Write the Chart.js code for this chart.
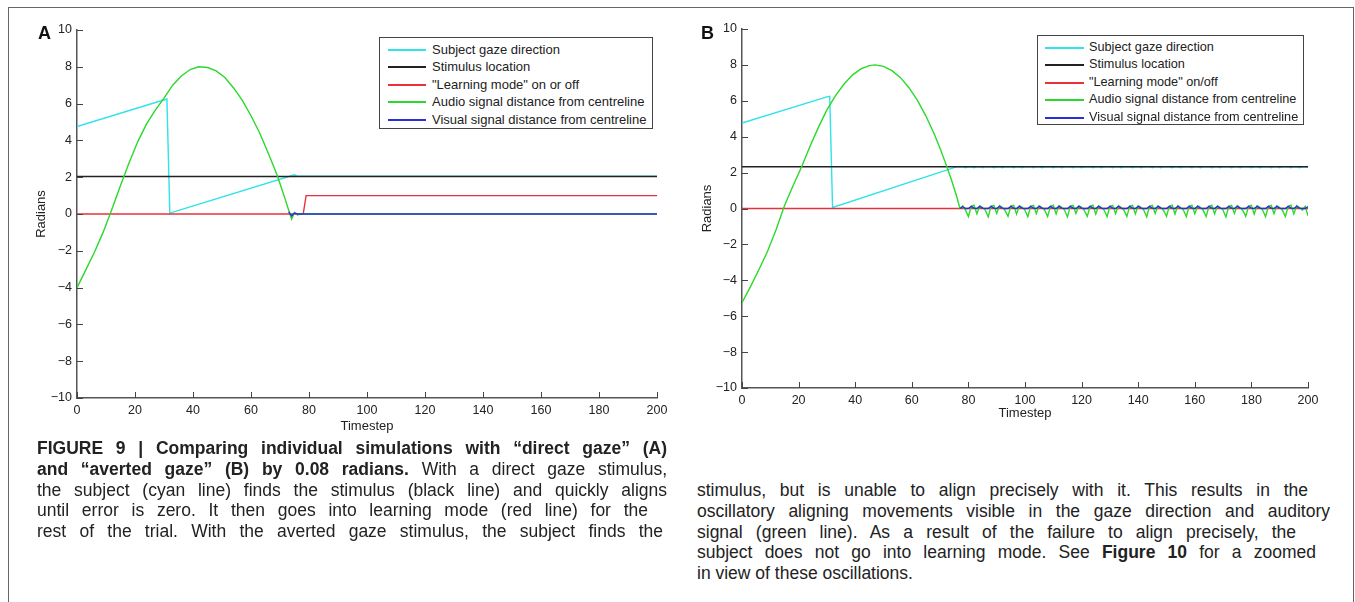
<!DOCTYPE html>
<html>
<head>
<meta charset="utf-8">
<script src="https://cdn.jsdelivr.net/npm/chart.js@4.4.1/dist/chart.umd.min.js"></script>
<style>
  body { margin: 0; background: #fff; width: 1355px; height: 602px; overflow: hidden; position: relative; font-family: "Liberation Sans", Arial, sans-serif; color: #222; }
  #frame { position: absolute; left: 8px; top: 7px; width: 1346px; height: 640px; border: 1.5px solid #666; border-bottom: none; box-sizing: border-box; }
  canvas { position: absolute; top: 0; }
  #cA { left: 0; }
  #cB { left: 680px; }
  .tag { position: absolute; top: 23px; font: bold 18px "Liberation Sans", Arial, sans-serif; color: #111; }
  .legend { position: absolute; border: 1px solid #444; background: #fff; box-sizing: border-box; }
  .legend .row { position: absolute; left: 0; right: 0; height: 17px; line-height: 17px; white-space: nowrap; }
  .legend .swatch { position: absolute; top: 8px; height: 1.5px; }
  .legend .txt { position: absolute; top: 0; }
  #legA { left: 379px; top: 37px; width: 274px; height: 92px; font-size: 13px; }
  #legA .swatch { left: 8px; width: 38px; }
  #legA .txt { left: 52px; }
  #legB { left: 1037px; top: 35px; width: 267px; height: 90px; font-size: 12.7px; }
  #legB .swatch { left: 7px; width: 39px; }
  #legB .txt { left: 51px; }
  .cap { position: absolute; font: 17.5px "Liberation Sans Narrow", "Liberation Sans", Arial, sans-serif; line-height: 20.75px; color: #222; }
  .cap div { text-align: justify; text-align-last: justify; height: 20.75px; overflow: hidden; }
  .cap div.last { text-align-last: left; }
  #capL { left: 37px; top: 438px; width: 630px; }
  #capR { left: 697px; top: 480px; width: 640px; }
</style>
</head>
<body>
<div id="frame"></div>
<canvas id="cA" width="680" height="440"></canvas>
<canvas id="cB" width="675" height="440"></canvas>
<div class="tag" style="left:38px">A</div>
<div class="tag" style="left:701px">B</div>
<div id="legA" class="legend"></div>
<div id="legB" class="legend"></div>

<div id="capL" class="cap">
  <div><b>FIGURE 9 | Comparing individual simulations with “direct gaze” (A)</b></div>
  <div><b>and “averted gaze” (B) by 0.08 radians.</b> With a direct gaze stimulus,</div>
  <div>the subject (cyan line) finds the stimulus (black line) and quickly aligns</div>
  <div style="width:611px">until error is zero. It then goes into learning mode (red line) for the</div>
  <div style="width:626px">rest of the trial. With the averted gaze stimulus, the subject finds the</div>
</div>
<div id="capR" class="cap">
  <div style="width:611px">stimulus, but is unable to align precisely with it. This results in the</div>
  <div style="width:633px">oscillatory aligning movements visible in the gaze direction and auditory</div>
  <div style="width:599px">signal (green line). As a result of the failure to align precisely, the</div>
  <div style="width:619px">subject does not go into learning mode. See <b>Figure 10</b> for a zoomed</div>
  <div class="last">in view of these oscillations.</div>
</div>

<script>
// ---- panel A : direct gaze ----
const stimA_t = [0, 200];
const stimA_v = [2.04, 2.04];
const gazeA_t = [0, 31, 32, 75, 76, 200];
const gazeA_v = [4.75, 6.25, 0.05, 2.13, 2.05, 2.05];
const learnA_t = [0, 78, 79, 200];
const learnA_v = [0, 0, 1, 1];
const audioA_t = [0, 3, 6, 9, 12, 15, 18, 21, 24, 27, 30, 33, 36, 39, 42, 45, 48, 51, 54, 57, 60, 63, 66, 69, 71, 72, 73, 74, 75, 76, 77, 200];
const audioA_v = [-4.0, -3.05, -2.08, -1.0, 0.25, 1.55, 2.8, 3.95, 4.9, 5.65, 6.3, 7.0, 7.5, 7.85, 8.0, 7.96, 7.78, 7.42, 6.85, 6.18, 5.34, 4.4, 3.29, 2.12, 1.18, 0.7, 0.2, -0.28, 0.08, -0.05, 0.0, 0.0];
const visA_t = [73, 74, 75, 76, 200];
const visA_v = [0.12, -0.1, 0.05, 0, 0];

// ---- panel B : averted gaze ----
const stimB_t = [0, 200];
const stimB_v = [2.33, 2.33];
const learnB_t = [0, 200];
const learnB_v = [0, 0];
const gazeB_t = [0, 30, 31, 32, 76];
const gazeB_v = [4.76, 6.22, 6.25, 0.06, 2.33];
const audioB_t = [0, 3, 6, 9, 12, 15, 18, 21, 24, 27, 30, 33, 36, 39, 42, 45, 47, 50, 53, 56, 59, 62, 65, 68, 70, 72, 74, 75, 76];
const audioB_v = [-5.25, -4.35, -3.4, -2.4, -1.2, 0.15, 1.25, 2.3, 3.45, 4.52, 5.49, 6.28, 6.92, 7.43, 7.78, 7.96, 8.0, 7.92, 7.68, 7.29, 6.73, 6.02, 5.15, 4.12, 3.34, 2.5, 1.6, 1.1, 0.6];
// oscillating part, one value per timestep from oscStart to 200
const oscStart = 77;
const gazeB_osc = [
  2.33, 2.33, 2.27,
  2.33, 2.33, 2.27, 2.33, 2.33, 2.27, 2.33,
  2.33, 2.33, 2.27, 2.33, 2.33, 2.27, 2.33,
  2.33, 2.33, 2.27, 2.33, 2.33, 2.27, 2.33,
  2.33, 2.33, 2.27, 2.33, 2.33, 2.27, 2.33,
  2.33, 2.33, 2.27, 2.33, 2.33, 2.27, 2.33,
  2.33, 2.33, 2.27, 2.33, 2.33, 2.27, 2.33,
  2.33, 2.33, 2.27, 2.33, 2.33, 2.27, 2.33,
  2.33, 2.33, 2.27, 2.33, 2.33, 2.27, 2.33,
  2.33, 2.33, 2.27, 2.33, 2.33, 2.27, 2.33,
  2.33, 2.33, 2.27, 2.33, 2.33, 2.27, 2.33,
  2.33, 2.33, 2.27, 2.33, 2.33, 2.27, 2.33,
  2.33, 2.33, 2.27, 2.33, 2.33, 2.27, 2.33,
  2.33, 2.33, 2.27, 2.33, 2.33, 2.27, 2.33,
  2.33, 2.33, 2.27, 2.33, 2.33, 2.27, 2.33,
  2.33, 2.33, 2.27, 2.33, 2.33, 2.27, 2.33,
  2.33, 2.33, 2.27, 2.33, 2.33, 2.27, 2.33,
  2.33, 2.33, 2.27, 2.33, 2.33, 2.27, 2.33,
  2.33, 2.30
];
const audioB_osc = [
  0.0, 0.15, -0.1,
  -0.45, 0.12, 0.18, -0.30, 0.15, 0.05, -0.10,
  -0.47, 0.12, 0.17, -0.28, 0.16, 0.05, -0.12,
  -0.44, 0.13, 0.18, -0.31, 0.15, 0.06, -0.10,
  -0.46, 0.12, 0.17, -0.29, 0.15, 0.05, -0.11,
  -0.45, 0.12, 0.18, -0.30, 0.16, 0.05, -0.10,
  -0.47, 0.13, 0.17, -0.28, 0.15, 0.06, -0.12,
  -0.44, 0.12, 0.18, -0.31, 0.15, 0.05, -0.10,
  -0.46, 0.12, 0.17, -0.29, 0.16, 0.05, -0.11,
  -0.45, 0.13, 0.18, -0.30, 0.15, 0.06, -0.10,
  -0.47, 0.12, 0.17, -0.28, 0.15, 0.05, -0.12,
  -0.44, 0.12, 0.18, -0.31, 0.16, 0.05, -0.10,
  -0.46, 0.13, 0.17, -0.29, 0.15, 0.06, -0.11,
  -0.45, 0.12, 0.18, -0.30, 0.15, 0.05, -0.10,
  -0.47, 0.12, 0.17, -0.28, 0.16, 0.05, -0.12,
  -0.44, 0.13, 0.18, -0.31, 0.15, 0.06, -0.10,
  -0.46, 0.12, 0.17, -0.29, 0.15, 0.05, -0.11,
  -0.45, 0.12, 0.18, -0.30, 0.16, 0.05, -0.10,
  0.12, -0.40
];
const visB_osc = [
  0, 0.1, 0,
  0, 0.12, 0.02, 0, 0.12, 0.02, 0,
  0, 0.12, 0.02, 0, 0.12, 0.02, 0,
  0, 0.12, 0.02, 0, 0.12, 0.02, 0,
  0, 0.12, 0.02, 0, 0.12, 0.02, 0,
  0, 0.12, 0.02, 0, 0.12, 0.02, 0,
  0, 0.12, 0.02, 0, 0.12, 0.02, 0,
  0, 0.12, 0.02, 0, 0.12, 0.02, 0,
  0, 0.12, 0.02, 0, 0.12, 0.02, 0,
  0, 0.12, 0.02, 0, 0.12, 0.02, 0,
  0, 0.12, 0.02, 0, 0.12, 0.02, 0,
  0, 0.12, 0.02, 0, 0.12, 0.02, 0,
  0, 0.12, 0.02, 0, 0.12, 0.02, 0,
  0, 0.12, 0.02, 0, 0.12, 0.02, 0,
  0, 0.12, 0.02, 0, 0.12, 0.02, 0,
  0, 0.12, 0.02, 0, 0.12, 0.02, 0,
  0, 0.12, 0.02, 0, 0.12, 0.02, 0,
  0, 0.12, 0.02, 0, 0.12, 0.02, 0,
  0, 0.1
];

const labelsA = ['Subject gaze direction', 'Stimulus location', '"Learning mode" on or off', 'Audio signal distance from centreline', 'Visual signal distance from centreline'];
const labelsB = ['Subject gaze direction', 'Stimulus location', '"Learning mode" on/off', 'Audio signal distance from centreline', 'Visual signal distance from centreline'];
const colors = ['#2fe3ea', '#222222', '#e8323a', '#2ad92a', '#2a2fd6'];

function pts(ts, vs) {
  return ts.map((t, i) => ({ x: t, y: vs[i] }));
}
function osc(vs) {
  return vs.map((v, i) => ({ x: oscStart + i, y: v }));
}

// MATLAB style ticks pointing into the plot
const inwardTicks = {
  id: 'inwardTicks',
  afterDraw(chart) {
    const { ctx, chartArea: a } = chart;
    const x = chart.scales.x, y = chart.scales.y;
    ctx.save();
    ctx.strokeStyle = '#444';
    ctx.lineWidth = 1;
    ctx.beginPath();
    x.ticks.forEach(t => {
      const px = Math.round(x.getPixelForValue(t.value)) + 0.5;
      ctx.moveTo(px, a.bottom);
      ctx.lineTo(px, a.bottom - 6);
    });
    y.ticks.forEach(t => {
      const py = Math.round(y.getPixelForValue(t.value)) + 0.5;
      ctx.moveTo(a.left, py);
      ctx.lineTo(a.left + 6, py);
    });
    ctx.stroke();
    ctx.restore();
  }
};

// boxed legend inside the axes, built from the datasets
const boxLegend = {
  id: 'boxLegend',
  afterUpdate(chart, args, opts) {
    const box = document.getElementById(opts.containerID);
    box.innerHTML = '';
    chart.data.datasets.forEach((ds, i) => {
      const row = document.createElement('div');
      row.className = 'row';
      row.style.top = Math.round(2.5 + i * 17.5) + 'px';
      const sw = document.createElement('div');
      sw.className = 'swatch';
      sw.style.background = colors[i];
      const tx = document.createElement('div');
      tx.className = 'txt';
      tx.textContent = ds.label;
      row.appendChild(sw);
      row.appendChild(tx);
      box.appendChild(row);
    });
  }
};

function makeChart(id, series, labels, legendId, lay) {
  const datasets = series.map((data, i) => ({
    label: labels[i],
    data: data,
    borderColor: colors[i],
    backgroundColor: colors[i],
    borderWidth: 1.4,
    pointRadius: 0,
    tension: 0,
    fill: false,
    order: 5 - i
  }));
  return new Chart(document.getElementById(id), {
    type: 'line',
    data: { datasets: datasets },
    options: {
      responsive: false,
      animation: false,
      events: [],
      layout: { padding: { left: 0, right: lay.right, top: lay.top, bottom: 0 } },
      plugins: {
        legend: { display: false },
        tooltip: { enabled: false },
        boxLegend: { containerID: legendId }
      },
      scales: {
        x: {
          type: 'linear', min: 0, max: 200,
          afterFit: s => { s.height = lay.xh; },
          grid: { display: false, drawTicks: false },
          border: { display: true, color: '#555', width: 1.5 },
          ticks: { stepSize: 20, autoSkip: false, maxRotation: 0, padding: 5, color: '#222', font: { family: 'Liberation Sans', size: 12.5 } },
          title: { display: true, text: 'Timestep', color: '#222', font: { family: 'Liberation Sans', size: 13 }, padding: { top: 0, bottom: lay.tb } }
        },
        y: {
          min: -10, max: 10,
          afterFit: s => { s.width = lay.yw; },
          grid: { display: false, drawTicks: false },
          border: { display: true, color: '#555', width: 1.5 },
          ticks: { stepSize: 2, padding: 5, color: '#222', font: { family: 'Liberation Sans', size: 12.5 },
                   callback: v => String(v).replace('-', '\u2212') },
          title: { display: true, text: 'Radians', color: '#222', font: { family: 'Liberation Sans', size: 13 }, padding: { top: lay.tl, bottom: 0 } }
        }
      }
    },
    plugins: [inwardTicks, boxLegend]
  });
}

makeChart('cA', [
  pts(gazeA_t, gazeA_v),
  pts(stimA_t, stimA_v),
  pts(learnA_t, learnA_v),
  pts(audioA_t, audioA_v),
  pts(visA_t, visA_v)
], labelsA, 'legA', { right: 23, top: 30, xh: 42, tb: 6, yw: 77, tl: 34 });

makeChart('cB', [
  pts(gazeB_t, gazeB_v).concat(osc(gazeB_osc)),
  pts(stimB_t, stimB_v),
  pts(learnB_t, learnB_v),
  pts(audioB_t, audioB_v).concat(osc(audioB_osc)),
  osc(visB_osc)
], labelsB, 'legB', { right: 47, top: 29, xh: 52, tb: 19, yw: 62, tl: 20 });
</script>
</body>
</html>
